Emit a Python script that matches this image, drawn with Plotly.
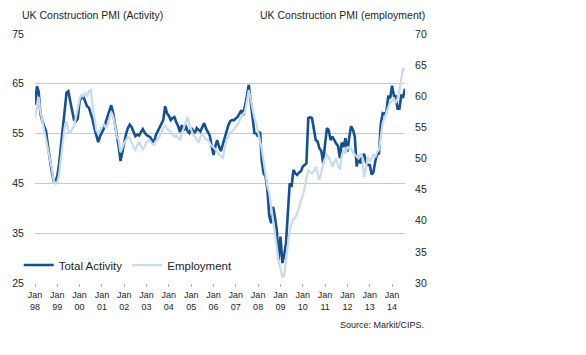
import pandas as pd
import plotly.graph_objects as go

# ---- data ----
months = pd.date_range("1998-01-01", "2014-08-01", freq="MS")

total_activity = [
    # 1998
    60.8, 64.5, 63.5, 59.0, 57.5, 56.5, 55.5, 52.5, 49.5, 47.5, 45.5, 45.2,
    # 1999
    46.5, 49.0, 52.5, 55.5, 59.5, 63.2, 63.5, 61.5, 59.5, 57.8, 57.5, 58.0,
    # 2000
    61.5, 62.2, 62.5, 61.5, 60.5, 60.2, 59.0, 57.8, 56.0, 54.5, 53.3, 54.5,
    # 2001
    55.3, 56.0, 57.2, 58.3, 59.5, 60.7, 59.3, 57.0, 55.0, 52.5, 49.5, 51.5,
    # 2002
    53.2, 55.0, 56.1, 56.8, 56.3, 55.2, 54.5, 54.8, 54.6, 55.3, 55.9, 55.2,
    # 2003
    54.7, 54.5, 54.3, 53.7, 53.1, 54.7, 55.5, 56.1, 57.0, 57.7, 60.5, 59.1,
    # 2004
    58.6, 57.7, 58.1, 58.3, 57.3, 56.5, 55.3, 56.7, 55.6, 56.7, 55.5, 55.1,
    # 2005
    56.1, 55.6, 55.1, 56.1, 55.8, 55.4, 56.3, 57.1, 56.0, 55.4, 54.6, 52.5,
    # 2006
    50.7, 52.5, 53.7, 52.4, 51.5, 52.8, 54.1, 55.5, 56.7, 57.5, 57.7, 57.7,
    # 2007
    58.0, 58.4, 59.0, 59.7, 58.7, 60.5, 62.5, 64.8, 61.1, 58.0, 55.1, 55.0,
    # 2008
    54.4, 55.4, 49.5, 47.0, 46.4, 43.7, 38.5, 37.0, 40.3, 38.3, 35.6, 29.6,
    # 2009
    34.3, 29.0, 30.5, 33.0, 39.7, 45.0, 44.3, 47.7, 47.0, 46.7, 47.2, 47.4,
    # 2010
    48.4, 48.8, 49.0, 58.1, 58.3, 58.1, 55.5, 53.7, 53.4, 52.0, 51.5, 49.0,
    # 2011
    53.0, 56.1, 55.7, 53.7, 54.4, 53.6, 53.0, 52.5, 50.1, 53.2, 52.3, 54.1,
    # 2012
    51.4, 54.3, 56.5, 55.8, 54.4, 48.4, 50.5, 49.0, 50.3, 50.9, 49.3, 48.7,
    # 2013
    48.7, 46.8, 47.2, 49.4, 50.8, 51.0, 57.0, 59.1, 58.9, 59.4, 62.6, 62.1,
    # 2014
    64.6, 62.6, 62.5, 60.0, 60.0, 62.6, 62.4, 64.0,
]

employment = [
    # 1998
    56.5, 58.5, 59.9, 57.5, 56.0, 55.0, 53.5, 52.0, 50.0, 48.5, 46.5, 46.0,
    # 1999
    46.2, 47.5, 50.0, 53.0, 55.0, 56.0, 54.5, 54.0, 54.8, 55.1, 56.5, 58.0,
    # 2000
    59.5, 60.2, 60.0, 60.5, 60.0, 60.8, 61.0, 58.5, 56.5, 54.5, 54.0, 54.6,
    # 2001
    55.1, 55.5, 55.0, 55.2, 56.5, 57.5, 56.8, 55.5, 53.5, 53.0, 51.0, 51.8,
    # 2002
    52.5, 53.0, 53.5, 53.3, 52.5, 51.8, 51.4, 52.2, 52.7, 52.0, 51.5, 51.9,
    # 2003
    52.6, 53.0, 52.8, 52.4, 52.2, 52.8, 53.0, 53.5, 54.2, 54.8, 55.4, 54.8,
    # 2004
    54.6, 54.3, 53.9, 53.5, 53.6, 53.2, 53.0, 54.0, 55.0, 56.0, 56.7, 55.5,
    # 2005
    54.5, 53.8, 53.5, 53.0, 52.5, 53.5, 54.0, 53.5, 53.0, 53.0, 52.5, 52.0,
    # 2006
    51.8, 51.4, 51.0, 50.6, 50.3, 50.0, 51.5, 53.0, 53.5, 54.1, 54.3, 54.8,
    # 2007
    55.1, 55.5, 56.0, 56.7, 57.2, 57.5, 59.0, 61.0, 59.5, 57.8, 56.5, 55.7,
    # 2008
    54.0, 52.8, 51.5, 49.5, 47.8, 45.5, 44.5, 42.5, 40.5, 38.5, 35.8, 33.5,
    # 2009
    32.0, 31.0, 31.2, 33.5, 36.5, 38.5, 39.5, 40.2, 40.5, 41.2, 42.0, 43.2,
    # 2010
    44.0, 45.4, 46.5, 48.2, 47.8, 47.6, 48.0, 48.7, 47.5, 46.6, 47.8, 49.2,
    # 2011
    50.0, 50.6, 50.2, 49.5, 48.7, 49.4, 50.0, 48.8, 48.2, 50.5, 51.4, 50.8,
    # 2012
    51.9, 51.5, 51.6, 51.0, 50.6, 50.3, 50.0, 50.8, 50.3, 47.0, 48.5, 50.3,
    # 2013
    49.5, 50.0, 50.6, 50.2, 51.0, 51.4, 53.5, 55.7, 56.5, 57.5, 58.3, 59.0,
    # 2014
    59.4, 59.6, 58.9, 59.7, 61.0, 62.6, 64.5, 64.2,
]

tick_years = list(range(1998, 2015))
tick_dates = [pd.Timestamp(f"{y}-01-01") for y in tick_years]
tick_text = [f"Jan<br>{y % 100:02d}" for y in tick_years]

left_ticks = [25, 35, 45, 55, 65, 75]
right_ticks = [30, 35, 40, 45, 50, 55, 60, 65, 70]

FONT = "Liberation Sans, Arial, Helvetica, sans-serif"
DARK = "#17508f"
LIGHT = "#c8dbec"
GRID = "#c9c9c9"
TXT = "#1e1e1e"

fig = go.Figure()
fig.add_trace(go.Scatter(x=months, y=employment, name="Employment", yaxis="y2",
                         mode="lines", line=dict(color=LIGHT, width=2.2)))
fig.add_trace(go.Scatter(x=months, y=total_activity, name="Total Activity",
                         mode="lines", line=dict(color=DARK, width=2.6)))

fig.update_layout(
    width=586, height=355,
    margin=dict(l=28, r=181, t=34, b=72),
    paper_bgcolor="white", plot_bgcolor="white",
    font=dict(family=FONT, size=10, color=TXT),
    showlegend=True,
    legend=dict(orientation="h", x=-0.044, y=0.072, xanchor="left", yanchor="middle",
                font=dict(size=11.5, color=TXT), traceorder="reversed",
                bgcolor="rgba(0,0,0,0)"),
    xaxis=dict(range=[months[0], months[-1]], tickmode="array",
               tickvals=tick_dates, ticktext=tick_text, showgrid=False,
               ticks="outside", ticklen=3, tickcolor="#b0b0b0",
               showline=False, zeroline=False,
               tickfont=dict(size=9, color=TXT)),
    yaxis=dict(range=[25, 75], tickmode="array", tickvals=left_ticks,
               showgrid=True, gridcolor=GRID, gridwidth=1, zeroline=False,
               ticks="outside", ticklen=8, tickcolor="rgba(0,0,0,0)",
               tickfont=dict(size=10.5, color=TXT)),
    yaxis2=dict(range=[30, 70], tickmode="array", tickvals=right_ticks,
                overlaying="y", side="right", showgrid=False, zeroline=False,
                ticks="outside", ticklen=7, tickcolor="rgba(0,0,0,0)",
                tickfont=dict(size=10.5, color=TXT)),
    annotations=[
        dict(text="UK Construction PMI (Activity)", xref="paper", yref="paper",
             x=-0.04, y=1.076, xanchor="left", yanchor="middle",
             showarrow=False, font=dict(size=10.5, color=TXT)),
        dict(text="UK Construction PMI (employment)", xref="paper", yref="paper",
             x=1.06, y=1.076, xanchor="right", yanchor="middle",
             showarrow=False, font=dict(size=10.5, color=TXT)),
        dict(text="Source: Markit/CIPS.", xref="paper", yref="paper",
             x=1.056, y=-0.17, xanchor="right", yanchor="middle",
             showarrow=False, font=dict(size=9, color=TXT)),
    ],
)

fig.write_html("out.html", config={"displayModeBar": False},
               post_script="document.body.style.margin='0';")
